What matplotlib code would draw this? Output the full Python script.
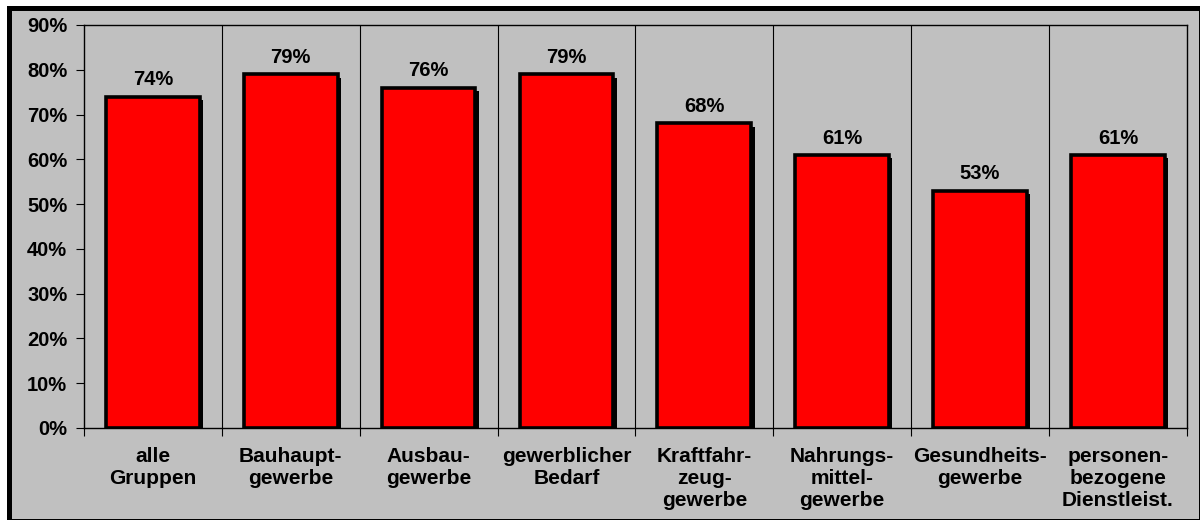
import matplotlib
matplotlib.use("Agg")
import matplotlib.pyplot as plt
import matplotlib.patheffects as pe
from matplotlib.patches import Rectangle
import numpy as np

categories = ["alle\nGruppen", "Bauhaupt-\ngewerbe", "Ausbau-\ngewerbe", "gewerblicher\nBedarf",
              "Kraftfahr-\nzeug-\ngewerbe", "Nahrungs-\nmittel-\ngewerbe", "Gesundheits-\ngewerbe",
              "personen-\nbezogene\nDienstleist."]
values = [74, 79, 76, 79, 68, 61, 53, 61]
yticks = [0, 10, 20, 30, 40, 50, 60, 70, 80, 90]
ytick_labels = [f"{v}%" for v in yticks]

plt.rcParams['font.family'] = ['Liberation Sans', 'DejaVu Sans']
bg = "#c0c0c0"

fig = plt.figure(figsize=(12, 5.2), dpi=100, facecolor="white")
W, H = 1200.0, 520.0
x0, y0t, x1, y1b = 8.5, 7.5, 1201.0, 521.0
fig.patches.append(Rectangle((x0 / W, 1 - y1b / H), (x1 - x0) / W, (y1b - y0t) / H,
                             transform=fig.transFigure, facecolor=bg, edgecolor="black",
                             linewidth=3.6, zorder=-5))

ax = fig.add_axes([0.07, 0.177, 0.919, 0.775])
ax.set_zorder(1)
ax.set_facecolor(bg)

x = np.arange(len(categories))
bars = ax.bar(x, values, width=0.68, color="#ff0000", edgecolor="black", linewidth=2.6, zorder=3)
for b in bars:
    b.set_path_effects([pe.SimplePatchShadow(offset=(2.4, -2.4), shadow_rgbFace="black", alpha=1.0), pe.Normal()])

for xi, v in zip(x, values):
    ax.text(xi, v + 1.6, f"{v}%", ha="center", va="bottom", fontsize=14.5, fontweight="bold")

ax.set_xlim(-0.5, len(categories) - 0.5)
ax.set_ylim(0, 90)
ax.set_yticks(yticks)
ax.set_yticklabels(ytick_labels, fontsize=14.5, fontweight="bold")
ax.set_xticks(x)
ax.set_xticklabels(categories, fontsize=15, fontweight="bold", linespacing=1.2)
ax.tick_params(axis="x", which="major", length=0, pad=14)
ax.set_xticks(np.arange(-0.5, len(categories)), minor=True)
ax.tick_params(axis="x", which="minor", length=6, width=0.8, direction="out")
ax.tick_params(axis="y", length=6, width=0.8, direction="out", pad=6)
for xb in np.arange(0.5, len(categories) - 0.5):
    ax.axvline(xb, color="black", linewidth=0.8, zorder=1)
for s in ax.spines.values():
    s.set_linewidth(1.0)
    s.set_color("black")

fig.savefig("out.png", dpi=100, facecolor="white")
